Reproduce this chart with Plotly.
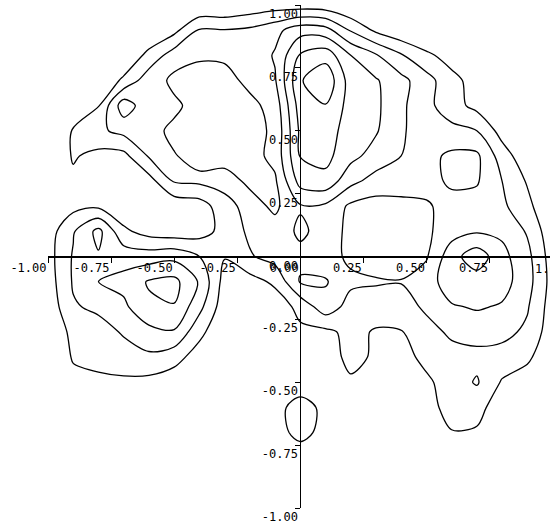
import plotly.graph_objects as go

# Grid of the smoothed density field (rows listed from y = +1.0 down to y = -1.0)
x_grid = [-1.0, -0.9, -0.8, -0.7, -0.6, -0.5, -0.4, -0.3, -0.2, -0.1, 0.0,
          0.1, 0.2, 0.3, 0.4, 0.5, 0.6, 0.7, 0.8, 0.9, 1.0]
y_grid_top_down = [1.0, 0.9, 0.8, 0.7, 0.6, 0.5, 0.4, 0.3, 0.2, 0.1, 0.0,
                   -0.1, -0.2, -0.3, -0.4, -0.5, -0.6, -0.7, -0.8, -0.9, -1.0]
density_rows = [
    [0, 0, 0, 0, 0, 0, 0, 0, 0.3, 0.5, 0.5, 0.4, 0, 0, 0, 0, 0, 0, 0, 0, 0],
    [0, 0, 0, 0, 0.1, 0.7, 2.1, 2.05, 2.2, 2.7, 3.6, 3.4, 1.9, 0.8, 0.2, 0, 0, 0, 0, 0, 0],
    [0, 0, 0, 0.1, 1.3, 2.5, 2.1, 2.2, 2.3, 3.1, 5.1, 5.6, 4.0, 3.1, 2.1, 1.2, 0.6, 0, 0, 0, 0],
    [0, 0, 0.1, 1.2, 2.6, 1.75, 1.7, 1.6, 2.3, 2.9, 5.9, 6.8, 4.5, 4.1, 3.3, 2.4, 1.3, 0.6, 0, 0, 0],
    [0, 0, 0.95, 3.6, 2.3, 2.2, 1.6, 1.6, 1.7, 2.4, 5.5, 5.95, 4.6, 4.2, 3.2, 2.3, 1.4, 0.7, 0.1, 0, 0],
    [0, 1.1, 1.8, 2.3, 2.3, 1.8, 1.6, 1.5, 1.6, 2.2, 5.2, 5.6, 4.4, 4.1, 3.1, 2.6, 2.3, 2.0, 0.6, 0.1, 0],
    [0, 1.1, 0.7, 0.7, 2.1, 2.05, 1.7, 1.6, 1.6, 2.3, 5.05, 5.3, 4.3, 3.6, 3.0, 2.7, 3.2, 3.2, 1.5, 0.3, 0],
    [0, 0.8, 0.1, 0.2, 0.6, 2.1, 2.2, 2.4, 1.8, 1.85, 4.4, 4.7, 3.3, 2.6, 2.5, 2.6, 3.2, 3.1, 2.0, 0.9, 0],
    [0, 0.7, 0.8, 0.3, 0.2, 0.3, 0.5, 1.6, 2.4, 1.8, 2.9, 2.8, 1.8, 1.6, 1.7, 1.8, 2.6, 2.6, 2.2, 1.3, 0],
    [0.5, 1.9, 3.3, 1.2, 0.6, 0.4, 0.6, 1.3, 2.2, 2.4, 3.2, 2.6, 1.7, 1.4, 1.5, 1.8, 2.6, 2.9, 2.8, 1.9, 0.3],
    [0.6, 2.1, 2.9, 2.6, 2.5, 2.7, 2.0, 1.05, 1.9, 2.4, 2.7, 2.4, 1.8, 1.5, 1.5, 1.9, 3.6, 4.6, 3.3, 2.3, 0.5],
    [0.5, 2.1, 3.0, 3.3, 4.1, 4.3, 2.9, 0.6, 0.6, 1.2, 3.1, 3.1, 2.2, 2.1, 2.05, 2.5, 3.6, 3.5, 3.4, 2.4, 0.6],
    [0.3, 1.9, 2.2, 2.8, 3.8, 3.95, 2.3, 0.4, 0.1, 0.4, 1.3, 2.6, 1.6, 1.5, 1.5, 2.2, 2.9, 3.1, 2.9, 2.1, 0.5],
    [0.1, 1.3, 1.6, 2.1, 2.7, 2.9, 1.3, 0.1, 0, 0.1, 0.8, 0.75, 1.3, 0.9, 0.95, 1.6, 2.2, 2.4, 2.3, 1.8, 0.4],
    [0, 1.1, 1.3, 1.6, 1.8, 1.4, 0.5, 0, 0, 0, 0.2, 0.3, 1.4, 0.8, 0.6, 1.3, 1.6, 1.7, 1.6, 1.2, 0.2],
    [0, 0.7, 0.8, 0.8, 0.7, 0.4, 0, 0, 0, 0, 0.3, 0.1, 0.8, 0.3, 0.4, 0.8, 1.5, 2.1, 0.9, 0.5, 0],
    [0, 0.1, 0.2, 0.2, 0.1, 0, 0, 0, 0, 0.6, 1.5, 0.7, 0.2, 0, 0.1, 0.6, 1.4, 1.3, 0.5, 0.2, 0],
    [0, 0, 0, 0, 0, 0, 0, 0, 0, 0.5, 1.4, 0.6, 0, 0, 0, 0.3, 0.95, 0.9, 0.2, 0, 0],
    [0, 0, 0, 0, 0, 0, 0, 0, 0, 0, 0.3, 0, 0, 0, 0, 0, 0.3, 0.2, 0, 0, 0],
    [0] * 21,
    [0] * 21,
]
contour_levels = [1, 2, 3, 4, 5, 6]

# Axis ticks
x_tick_vals = [-1.0, -0.75, -0.5, -0.25, 0.0, 0.25, 0.5, 0.75]
x_tick_text = ["-1.00", "-0.75", "-0.50", "-0.25", "0.00", "0.25", "0.50", "0.75"]
y_tick_vals = [1.0, 0.75, 0.5, 0.25, 0.0, -0.25, -0.5, -0.75, -1.0]
y_tick_text = ["1.00", "0.75", "0.50", "0.25", "0.00", "-0.25", "-0.50", "-0.75", "-1.00"]
x_edge_label = "1.00"

y_grid = list(reversed(y_grid_top_down))
z_grid = list(reversed(density_rows))

X_RANGE = [-1.0, 0.99]
Y_RANGE = [-1.0, 1.0]
FONT = dict(family="DejaVu Sans Mono", size=12, color="black")

fig = go.Figure()
fig.add_trace(go.Contour(
    x=x_grid, y=y_grid, z=z_grid,
    contours=dict(start=contour_levels[0], end=contour_levels[-1],
                  size=contour_levels[1] - contour_levels[0], coloring="none"),
    line=dict(color="black", width=1.3, smoothing=0.9),
    showscale=False, hoverinfo="skip",
))

y_axis_pos = (0 - X_RANGE[0]) / (X_RANGE[1] - X_RANGE[0])
x_axis_pos = (0 - Y_RANGE[0]) / (Y_RANGE[1] - Y_RANGE[0])

fig.update_layout(
    width=550, height=525, autosize=False,
    margin=dict(l=48, r=0, t=5, b=17),
    paper_bgcolor="white", plot_bgcolor="white",
    showlegend=False,
    font=FONT,
    xaxis=dict(
        range=X_RANGE, anchor="free", position=x_axis_pos,
        showgrid=False, zeroline=False,
        showline=True, linecolor="black", linewidth=2,
        ticks="outside", ticklen=5, tickcolor="black", tickwidth=1,
        tickvals=x_tick_vals, ticktext=x_tick_text,
        ticklabelposition="outside left", tickfont=FONT,
    ),
    yaxis=dict(
        range=Y_RANGE, anchor="free", position=y_axis_pos,
        showgrid=False, zeroline=False,
        showline=True, linecolor="black", linewidth=1,
        ticks="outside", ticklen=5, tickcolor="black", tickwidth=1,
        tickvals=y_tick_vals, ticktext=y_tick_text,
        ticklabelposition="outside bottom", tickfont=FONT,
    ),
    annotations=[dict(
        text=x_edge_label, xref="paper", yref="y", x=0.966, y=0.0,
        xanchor="left", yanchor="top", yshift=-3, showarrow=False, font=FONT,
    )],
)

fig.write_html("out.html")
